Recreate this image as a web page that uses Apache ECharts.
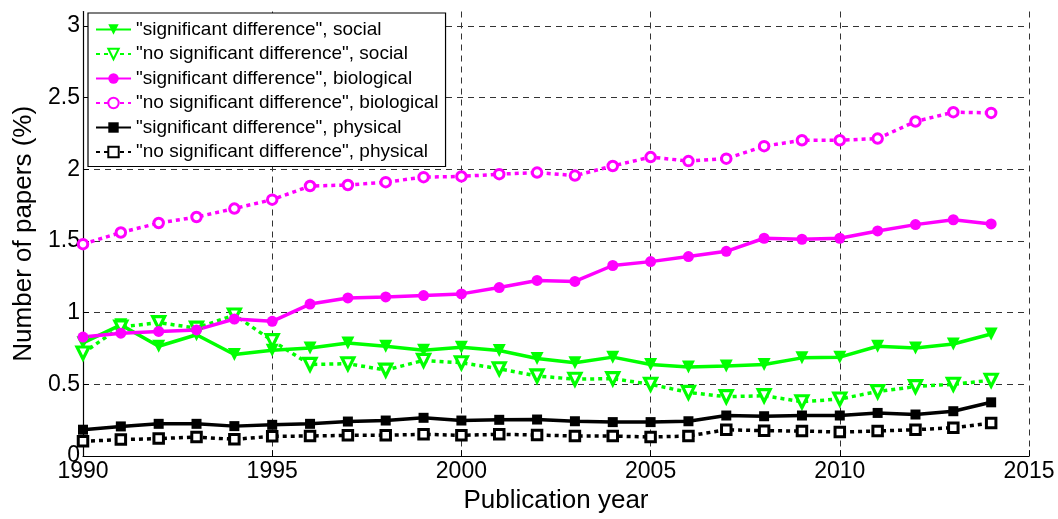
<!DOCTYPE html>
<html>
<head>
<meta charset="utf-8">
<script src="https://cdn.jsdelivr.net/npm/echarts@6/dist/echarts.min.js"></script>
<style>html,body{margin:0;padding:0;background:#fff;}#chart{width:1058px;height:519px;}</style>
</head>
<body>
<div id="chart"></div>
<script>
const years = [1990,1991,1992,1993,1994,1995,1996,1997,1998,1999,2000,2001,2002,2003,2004,2005,2006,2007,2008,2009,2010,2011,2012,2013,2014];
const socialSig = [0.790,0.915,0.766,0.846,0.708,0.738,0.754,0.789,0.766,0.738,0.759,0.736,0.681,0.651,0.690,0.639,0.621,0.628,0.639,0.685,0.690,0.766,0.754,0.782,0.851];
const socialNo  = [0.719,0.900,0.931,0.892,0.984,0.805,0.639,0.644,0.600,0.667,0.651,0.609,0.559,0.536,0.540,0.501,0.444,0.414,0.421,0.379,0.398,0.450,0.485,0.501,0.529];
const bioSig    = [0.830,0.857,0.869,0.880,0.956,0.940,1.060,1.103,1.110,1.119,1.131,1.175,1.225,1.218,1.329,1.356,1.391,1.428,1.519,1.512,1.519,1.570,1.614,1.648,1.619];
const bioNo     = [1.478,1.559,1.625,1.667,1.726,1.788,1.883,1.890,1.910,1.945,1.950,1.966,1.977,1.956,2.023,2.085,2.057,2.074,2.161,2.202,2.202,2.214,2.333,2.398,2.393];
const physSig   = [0.184,0.207,0.225,0.225,0.209,0.218,0.225,0.241,0.248,0.267,0.248,0.253,0.255,0.243,0.237,0.237,0.243,0.283,0.278,0.283,0.283,0.301,0.290,0.313,0.375];
const physNo    = [0.103,0.115,0.122,0.133,0.117,0.138,0.140,0.145,0.145,0.152,0.145,0.152,0.147,0.140,0.140,0.133,0.140,0.184,0.177,0.175,0.168,0.175,0.184,0.198,0.230];
const seriesNames = [
  '"significant difference", social',
  '"no significant difference", social',
  '"significant difference", biological',
  '"no significant difference", biological',
  '"significant difference", physical',
  '"no significant difference", physical'
];
const xTicks = [1990,1995,2000,2005,2010,2015];
const yTicks = [0,0.5,1,1.5,2,2.5,3];

const FONT = 'Liberation Sans, Arial, Helvetica, sans-serif';
const GREEN = '#00ff00', MAG = '#ff00ff', BLK = '#000000';
const DOT = [4,4];

function pairs(vals){ return years.map((y,i)=>[y, vals[i]]); }
function mk(name, vals, color, dotted, symbol, filled, size, rot, bw){
  return {
    name: name, type: 'line', data: pairs(vals),
    symbol: symbol, symbolSize: size, symbolRotate: rot || 0,
    showAllSymbol: true,
    lineStyle: {color: color, width: 3.5, type: dotted ? DOT : 'solid'},
    itemStyle: filled ? {color: color, borderColor: color, borderWidth: 0}
                      : {color: '#ffffff', borderColor: color, borderWidth: bw || 3},
    emphasis: {disabled: true},
    animation: false
  };
}

const chart = echarts.init(document.getElementById('chart'), null, {renderer: 'canvas'});
chart.setOption({
  backgroundColor: '#ffffff',
  animation: false,
  grid: {left: 83, right: 29, top: 11.5, bottom: 58, containLabel: false},
  legend: {
    orient: 'vertical', left: 88, top: 13,
    backgroundColor: '#ffffff', borderColor: '#000', borderWidth: 1.2,
    padding: [7, 7, 5, 7], itemGap: 5.5, itemWidth: 35, itemHeight: 13,
    textStyle: {fontFamily: FONT, fontSize: 19, color: '#000'},
    data: seriesNames
  },
  xAxis: {
    type: 'value', min: 1990, max: 2015, interval: 5,
    name: 'Publication year', nameLocation: 'middle', nameGap: 25,
    nameTextStyle: {fontFamily: FONT, fontSize: 26, color: '#000'},
    axisLine: {show: true, onZero: false, lineStyle: {color: '#000', width: 1.2}},
    axisTick: {show: true, inside: true, length: 6, lineStyle: {color: '#000'}},
    axisLabel: {fontFamily: FONT, fontSize: 23, color: '#000', margin: 4,
      formatter: v => xTicks.indexOf(v) >= 0 ? String(v) : ''},
    splitLine: {show: true, lineStyle: {color: '#333', width: 1, type: [6,5]}}
  },
  yAxis: {
    type: 'value', min: 0, max: 3.1, interval: 0.5,
    name: 'Number of papers (%)', nameLocation: 'middle', nameGap: 35,
    nameTextStyle: {fontFamily: FONT, fontSize: 26, color: '#000'},
    axisLine: {show: true, onZero: false, lineStyle: {color: '#000', width: 1.2}},
    axisTick: {show: true, inside: true, length: 6, lineStyle: {color: '#000'}},
    axisLabel: {fontFamily: FONT, fontSize: 23, color: '#000', margin: 3, showMaxLabel: false,
      formatter: v => yTicks.indexOf(v) >= 0 ? String(v) : ''},
    splitLine: {show: true, showMaxLine: false, lineStyle: {color: '#333', width: 1, type: [6,5]}}
  },
  series: [
    mk(seriesNames[0], socialSig, GREEN, false, 'triangle', true, 13, 180),
    mk(seriesNames[1], socialNo, GREEN, true, 'triangle', false, 12, 180, 3.2),
    mk(seriesNames[2], bioSig, MAG, false, 'circle', true, 11),
    mk(seriesNames[3], bioNo, MAG, true, 'circle', false, 9.5, 0, 3),
    mk(seriesNames[4], physSig, BLK, false, 'rect', true, 10),
    mk(seriesNames[5], physNo, BLK, true, 'rect', false, 9.5, 0, 3)
  ]
});
</script>
</body>
</html>
